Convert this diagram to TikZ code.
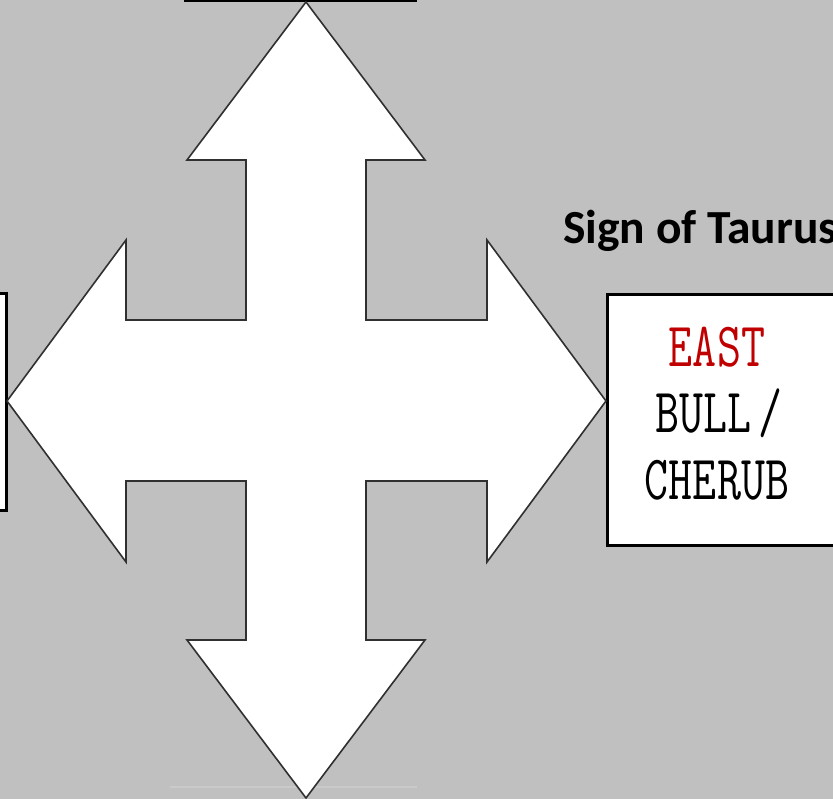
\documentclass[tikz,border=0pt]{standalone}
\usepackage{fontspec}
\usepackage{graphicx}
\newfontfamily\calib{Carlito}
\definecolor{bgray}{HTML}{C0C0C0}
\definecolor{outl}{HTML}{303030}
\definecolor{eastred}{HTML}{C00000}
\definecolor{ghost}{HTML}{CACACA}
\tikzset{
  cardbox/.style={draw=black, line width=3pt, fill=white},
  crossarrow/.style={draw=outl, line width=1.6pt, fill=white, line join=miter},
  boxtext/.style={anchor=base, inner sep=0pt, font=\ttfamily\fontsize{63}{66}\selectfont},
  title/.style={anchor=base west, inner sep=0pt, font=\calib\bfseries\fontsize{47.5}{50}\selectfont}
}
\begin{document}
\begin{tikzpicture}[x=1pt,y=-1pt]
\useasboundingbox (0,0) rectangle (833,799);
\clip (0,0) rectangle (833,799);
\fill[bgray] (0,0) rectangle (833,799);
% ghost edge at bottom
\draw[ghost, line width=2pt] (170,787) -- (417,787);
% boxes
\draw[cardbox] (185,-100) rectangle (415,1);
\coordinate (northbox) at (306,1);
\draw[cardbox] (-100,294) rectangle (6,510);
\coordinate (westbox) at (6,402);
\draw[cardbox] (607,295) rectangle (860,545);
\coordinate (eastbox) at (607,402);
% cross arrow
\draw[crossarrow] (306,2) -- (425,160) -- (366,160) -- (366,320) -- (487,320) -- (487,240)
  -- (606,401) -- (487,562) -- (487,481) -- (366,481) -- (366,640) -- (425,640)
  -- (306,798) -- (187,640) -- (246,640) -- (246,481) -- (126,481) -- (126,562)
  -- (7,401) -- (126,240) -- (126,320) -- (246,320) -- (246,160) -- (187,160) -- cycle;
% texts
\node[title] (taurus) at (563,244) {Sign of Taurus};
\node[boxtext, text=eastred] (east) at (717,367) {\scalebox{0.74}[1]{EAST}};
\node[boxtext] (bull) at (719,433) {\scalebox{0.74}[1]{BULL\kern-22pt\ /}};
\node[boxtext] (cherub) at (717,500) {\scalebox{0.74}[1]{CHERUB}};
\end{tikzpicture}
\end{document}
